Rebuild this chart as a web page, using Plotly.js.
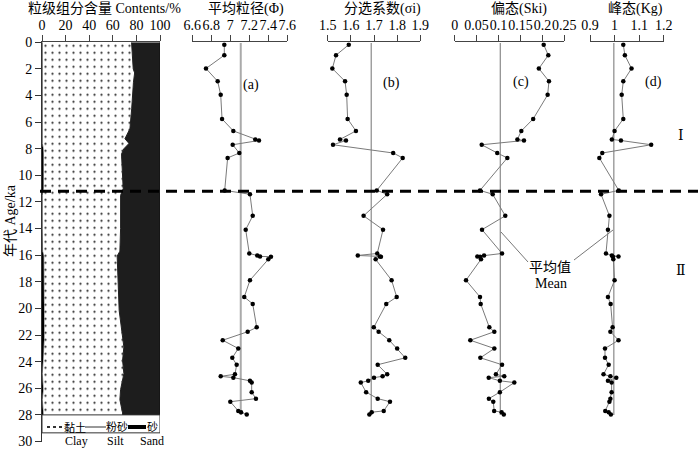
<!DOCTYPE html>
<html>
<head>
<meta charset="utf-8">
<script src="https://cdn.plot.ly/plotly-3.0.1.min.js"></script>
<style>html,body{margin:0;padding:0;background:#fff;}#chart{width:700px;height:449px;}</style>
</head>
<body>
<div id="chart"></div>
<script>
// ---------- data ----------
// grain-size composition (panel 1)
const gsAge  = [0, 1, 2, 2.3, 3, 5, 6.5, 7.25, 7.6, 8.0, 8.4, 11.0, 11.5, 14.0, 15.7, 16.06, 18.4, 20.15, 22.15, 22.9, 23.9, 24.9, 26.1, 26.86, 27.85, 28];
const clay   = [0.3, 0.3, 0.3, 0.3, 0.3, 0.3, 0.3, 0.3, 0.3, 1.0, 1.2, 1.2, 0.3, 0.3, 0.5, 1.5, 1.8, 1.5, 1.8, 1.5, 1.2, 0.3, 1.0, 0.3, 1.0, 1.0];
const silt   = [75.6, 76.2, 77.0, 78.2, 77.2, 75.7, 74.2, 70.0, 73.4, 68.4, 66.2, 67.6, 66.3, 66.3, 65.5, 62.2, 62.8, 63.9, 66.5, 67.9, 67.1, 69.1, 65.6, 65.7, 67.3, 67.3];
const sand   = gsAge.map((_, i) => 100 - clay[i] - silt[i]);

// sample ages (shared by panels a-d)
const ages = [0.18, 0.97, 1.97, 2.93, 3.95, 5.76, 6.66, 7.30, 7.38, 7.70, 8.32, 8.69, 11.13, 11.42, 13.04, 14.08, 15.87, 16.02, 16.09, 16.11, 16.31, 17.88, 19.14, 19.66, 21.42, 21.75, 22.39, 23.01, 23.71, 24.23, 24.95, 25.10, 25.20, 25.44, 25.57, 26.29, 26.78, 27.01, 27.70, 27.80, 27.97];
const meanSize = [6.937, 6.937, 6.744, 6.867, 6.899, 6.913, 7.032, 7.263, 7.302, 7.025, 7.095, 6.972, 6.941, 7.207, 7.236, 7.162, 7.200, 7.284, 7.313, 7.428, 7.400, 7.207, 7.147, 7.236, 7.278, 7.183, 6.920, 7.084, 7.021, 7.067, 7.049, 6.899, 7.032, 7.207, 7.225, 7.225, 7.270, 7.000, 7.084, 7.113, 7.173];
const sorting  = [1.591, 1.536, 1.520, 1.575, 1.582, 1.586, 1.622, 1.553, 1.579, 1.523, 1.783, 1.824, 1.712, 1.757, 1.655, 1.739, 1.714, 1.630, 1.725, 1.730, 1.707, 1.776, 1.798, 1.753, 1.699, 1.720, 1.766, 1.800, 1.835, 1.716, 1.757, 1.737, 1.700, 1.675, 1.643, 1.666, 1.716, 1.769, 1.742, 1.690, 1.680];
const skewness = [0.203, 0.2135, 0.192, 0.215, 0.212, 0.179, 0.152, 0.143, 0.158, 0.0616, 0.097, 0.120, 0.0577, 0.0867, 0.1154, 0.0623, 0.108, 0.067, 0.0516, 0.058, 0.060, 0.0258, 0.0577, 0.0593, 0.079, 0.0904, 0.0356, 0.0904, 0.0585, 0.108, 0.094, 0.113, 0.0776, 0.103, 0.136, 0.103, 0.078, 0.088, 0.090, 0.107, 0.112];
const kurtosis = [1.0355, 1.042, 1.069, 1.0355, 1.029, 1.0355, 1.000, 0.989, 1.026, 1.149, 0.950, 0.938, 1.017, 0.945, 0.979, 0.973, 0.965, 0.989, 1.016, 0.993, 0.995, 1.000, 0.973, 0.984, 0.992, 0.983, 1.016, 0.961, 0.961, 0.976, 0.955, 0.983, 1.007, 0.973, 0.988, 0.988, 0.983, 0.979, 0.962, 0.976, 0.985];

// mean values and their span
const means = [7.11, 1.688, 0.104, 0.997];
const meanSpan = [0.05, 28];
const boundaryAge = 11.2;

// axis labels
const panelTitles = ['粒级组分含量 Contents/%', '平均粒径(Φ)', '分选系数(σi)', '偏态(Ski)', '峰态(Kg)'];
const panelTags = ['(a)', '(b)', '(c)', '(d)'];
const ranges = [[0, 100], [6.6, 7.6], [1.5, 1.9], [0, 0.25], [0.9, 1.2]];
const dticks = [20, 0.2, 0.1, 0.05, 0.1];

// ---------- helpers ----------
const W = 700, H = 449;
const px = x => x / W;
const py = y => 1 - y / H;
const serif = '"Liberation Serif", "Times New Roman", "Noto Sans CJK SC", serif';

const traces = [];
const cum1 = clay.slice();
const cum2 = clay.map((c, i) => c + silt[i]);
const cum3 = cum2.map((c, i) => c + sand[i]);

traces.push({x: cum1, y: gsAge, xaxis: 'x', yaxis: 'y', mode: 'lines', line: {color: '#000', width: 0.5},
  fill: 'tozerox', fillcolor: '#000', hoverinfo: 'skip', showlegend: false});
traces.push({x: cum2, y: gsAge, xaxis: 'x', yaxis: 'y', mode: 'lines', line: {color: '#222', width: 1},
  fill: 'tonextx', fillcolor: '#fff',
  fillpattern: {shape: '.', size: 7, solidity: 0.08, fgcolor: '#222', bgcolor: '#fff'},
  hoverinfo: 'skip', showlegend: false});
traces.push({x: cum3, y: gsAge, xaxis: 'x', yaxis: 'y', mode: 'lines', line: {color: '#111', width: 1},
  fill: 'tonextx', fillcolor: '#1c1c1c',
  fillpattern: {shape: '|', size: 2, solidity: 0.3, fgcolor: '#3a3a3a', bgcolor: '#101010'},
  hoverinfo: 'skip', showlegend: false});

const series = [meanSize, sorting, skewness, kurtosis];
series.forEach((vals, k) => {
  const ax = 'x' + (k + 2);
  traces.push({x: [means[k], means[k]], y: meanSpan, xaxis: ax, yaxis: 'y', mode: 'lines',
    line: {color: k === 0 ? '#aaa' : '#8a8a8a', width: k === 0 ? 2 : 1.2}, hoverinfo: 'skip', showlegend: false});
  traces.push({x: vals, y: ages, xaxis: ax, yaxis: 'y', mode: 'lines+markers',
    line: {color: '#7a7a7a', width: 1}, marker: {color: '#000', size: 4.5}, showlegend: false});
});

const domains = [[42, 160], [192.3, 287.3], [327.7, 420.3], [454.7, 564.3], [590, 663.7]];
const layout = {
  width: W, height: H,
  margin: {l: 0, r: 0, t: 0, b: 0},
  paper_bgcolor: '#fff', plot_bgcolor: 'rgba(0,0,0,0)',
  font: {family: serif, size: 14, color: '#000'},
  showlegend: false,
  yaxis: {domain: [py(441.5), py(42.3)], range: [30, 0], anchor: 'x', showline: true, linecolor: '#333', linewidth: 1,
    ticks: 'outside', ticklen: 6, tickcolor: '#333', dtick: 2, tick0: 0, showgrid: false, zeroline: false,
    ticklabeloverflow: 'allow', tickfont: {family: serif, size: 14}},
  shapes: [], annotations: []
};
domains.forEach((d, i) => {
  const key = i === 0 ? 'xaxis' : 'xaxis' + (i + 1);
  layout[key] = {domain: [px(d[0]), px(d[1])], range: ranges[i], side: 'top', anchor: 'y', showline: true,
    linecolor: '#444', linewidth: 1, ticks: 'outside', ticklen: 6, tickcolor: '#444', dtick: dticks[i], tick0: ranges[i][0],
    showgrid: false, zeroline: false, tickangle: 0, tickfont: {family: serif, size: 14}};
});

// dashed boundary
layout.shapes.push({type: 'line', xref: 'paper', yref: 'y', x0: px(40), x1: px(698), y0: boundaryAge, y1: boundaryAge,
  line: {color: '#000', width: 3, dash: '11px,7px'}});
// legend box in panel 1
layout.shapes.push({type: 'rect', xref: 'x', yref: 'y', x0: 0, x1: 100, y0: 28, y1: 29.35, line: {color: '#333', width: 1}, fillcolor: '#fff'});
layout.shapes.push({type: 'line', xref: 'paper', yref: 'paper', x0: px(47), x1: px(64), y0: py(427), y1: py(427), line: {color: '#333', width: 2, dash: 'dot'}});
layout.shapes.push({type: 'line', xref: 'paper', yref: 'paper', x0: px(85), x1: px(106), y0: py(427), y1: py(427), line: {color: '#333', width: 1}});
layout.shapes.push({type: 'line', xref: 'paper', yref: 'paper', x0: px(128), x1: px(146), y0: py(427), y1: py(427), line: {color: '#000', width: 4}});
// mean leader lines
layout.shapes.push({type: 'line', xref: 'paper', yref: 'paper', x0: px(501), y0: py(232), x1: px(528), y1: py(262), line: {color: '#777', width: 1}});
layout.shapes.push({type: 'line', xref: 'paper', yref: 'paper', x0: px(574), y0: py(260), x1: px(613), y1: py(230), line: {color: '#777', width: 1}});

function ann(text, x, y, size, extra) {
  layout.annotations.push(Object.assign({text, xref: 'paper', yref: 'paper', x: px(x), y: py(y), xanchor: 'center', yanchor: 'middle',
    showarrow: false, font: {family: serif, size: size, color: '#000'}}, extra || {}));
}
const titleX = [104, 246, 382, 519, 635];
panelTitles.forEach((t, i) => ann(t, titleX[i], 9, 14));
const tagX = [251, 391, 521, 653], tagY = [85, 83, 82, 82];
panelTags.forEach((t, i) => ann(t, tagX[i], tagY[i], 14));
const romanFont = {family: '"DejaVu Serif", "Liberation Serif", serif', size: 14, color: '#000'};
ann('Ⅰ', 681, 135, 14, {font: romanFont});
ann('Ⅱ', 681, 270, 14, {font: romanFont});
ann('平均值', 550, 267, 14);
ann('Mean', 551, 283, 14);
ann('年代 Age/ka', 10, 221, 14, {textangle: -90});
ann('黏土', 75, 427, 11);
ann('粉砂', 117, 427, 11);
ann('砂', 152, 427, 11);
ann('Clay', 76, 441, 12);
ann('Silt', 115, 441, 12);
ann('Sand', 152, 441, 12);

Plotly.newPlot('chart', traces, layout, {displayModeBar: false, staticPlot: true});
</script>
</body>
</html>
